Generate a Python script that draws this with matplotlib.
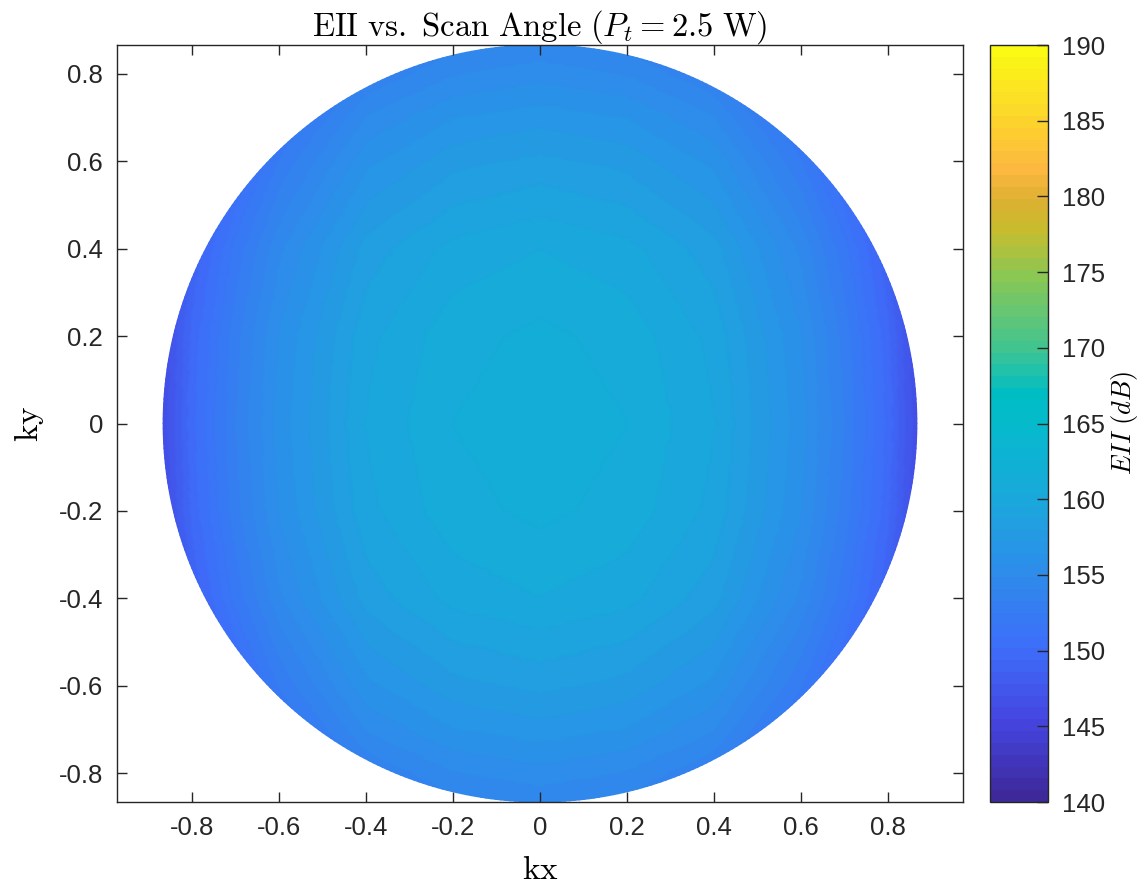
"""
EII vs. scan angle over the visible kx-ky disk (MATLAB-style figure).
"""

import numpy as np
import matplotlib
matplotlib.use("Agg")
import matplotlib.pyplot as plt
from matplotlib.colors import LinearSegmentedColormap

# ── Data ──────────────────────────────────────────────────────────────────────
P_T = 2.5
K_MAX = 0.866                      # sin(60 deg) scan limit

# EII profile along the kx axis (ky = 0) and the ky axis (kx = 0), dB
K_PTS  = [0.0, 0.2, 0.4, 0.6, 0.7, 0.8, 0.866]
EII_KX = [161.6, 161.1, 159.6, 156.0, 153.3, 150.0, 146.5]
EII_KY = [161.6, 161.3, 160.3, 158.2, 156.9, 155.3, 154.3]

CLIM = (140, 190)
TICKS = [-0.8, -0.6, -0.4, -0.2, 0, 0.2, 0.4, 0.6, 0.8]
CTICKS = list(range(140, 191, 5))

# ── Parula-like colormap (64 levels, as in MATLAB) ────────────────────────────
PARULA = [
    (0.00, (0.24, 0.16, 0.60)),
    (0.10, (0.27, 0.27, 0.88)),
    (0.20, (0.24, 0.43, 0.98)),
    (0.30, (0.18, 0.55, 0.92)),
    (0.40, (0.10, 0.66, 0.86)),
    (0.50, (0.02, 0.73, 0.80)),
    (0.54, (0.00, 0.74, 0.77)),
    (0.60, (0.25, 0.77, 0.57)),
    (0.70, (0.55, 0.78, 0.32)),
    (0.76, (0.78, 0.74, 0.18)),
    (0.80, (0.87, 0.69, 0.20)),
    (0.84, (0.99, 0.72, 0.25)),
    (0.90, (0.99, 0.82, 0.18)),
    (1.00, (0.98, 0.98, 0.08)),
]
cmap = LinearSegmentedColormap.from_list("parula", PARULA, N=64)

# ── Field over the disk (polar mesh so the rim stays round) ───────────────────
r = np.linspace(0, K_MAX, 160)
th = np.linspace(0, 2 * np.pi, 481)
R, TH = np.meshgrid(r, th)
KX = R * np.cos(TH)
KY = R * np.sin(TH)
e0 = EII_KX[0]
Z = (e0
     + (np.interp(np.abs(KX), K_PTS, EII_KX) - e0)
     + (np.interp(np.abs(KY), K_PTS, EII_KY) - e0))

# ── Figure ────────────────────────────────────────────────────────────────────
plt.rcParams["font.family"] = ["Liberation Sans", "DejaVu Sans"]
plt.rcParams["mathtext.fontset"] = "cm"
DARK = "#262626"

fig = plt.figure(figsize=(11.48, 8.88), dpi=100)
ax = fig.add_axes([117 / 1148, 1 - 802 / 888, (963 - 117) / 1148, (802 - 45) / 888])
cax = fig.add_axes([990 / 1148, 1 - 802 / 888, (1048 - 990) / 1148, (802 - 45) / 888])

mesh = ax.pcolormesh(KX, KY, Z, cmap=cmap, vmin=CLIM[0], vmax=CLIM[1],
                     shading="gouraud", rasterized=True)

ax.set_xlim(-0.972, 0.972)
ax.set_ylim(-K_MAX, K_MAX)
ax.set_xticks(TICKS)
ax.set_yticks(TICKS)
ax.set_xticklabels(["%g" % t for t in TICKS])
ax.set_yticklabels(["%g" % t for t in TICKS])
ax.tick_params(direction="in", length=7, width=1.0, color=DARK,
               labelcolor=DARK, labelsize=18.5, top=True, right=True, pad=10)
for spine in ax.spines.values():
    spine.set_color(DARK)
    spine.set_linewidth(1.0)

ax.set_title(r"$\mathrm{EII\ vs.\ Scan\ Angle\ (}P_t = 2.5\ \mathrm{W)}$",
             fontsize=23.5, color="black", pad=7)
ax.set_xlabel(r"$\mathrm{kx}$", fontsize=24, labelpad=11)
ax.set_ylabel(r"$\mathrm{ky}$", fontsize=24, labelpad=9)

cb = fig.colorbar(mesh, cax=cax, ticks=CTICKS)
cb.outline.set_edgecolor(DARK)
cb.outline.set_linewidth(1.0)
cax.tick_params(direction="in", length=8, width=1.0, color=DARK,
                labelcolor=DARK, labelsize=18.5, pad=10)
cb.set_label(r"$EII\ (dB)$", fontsize=19, labelpad=3)

fig.savefig("out.png", dpi=100, facecolor="white")
